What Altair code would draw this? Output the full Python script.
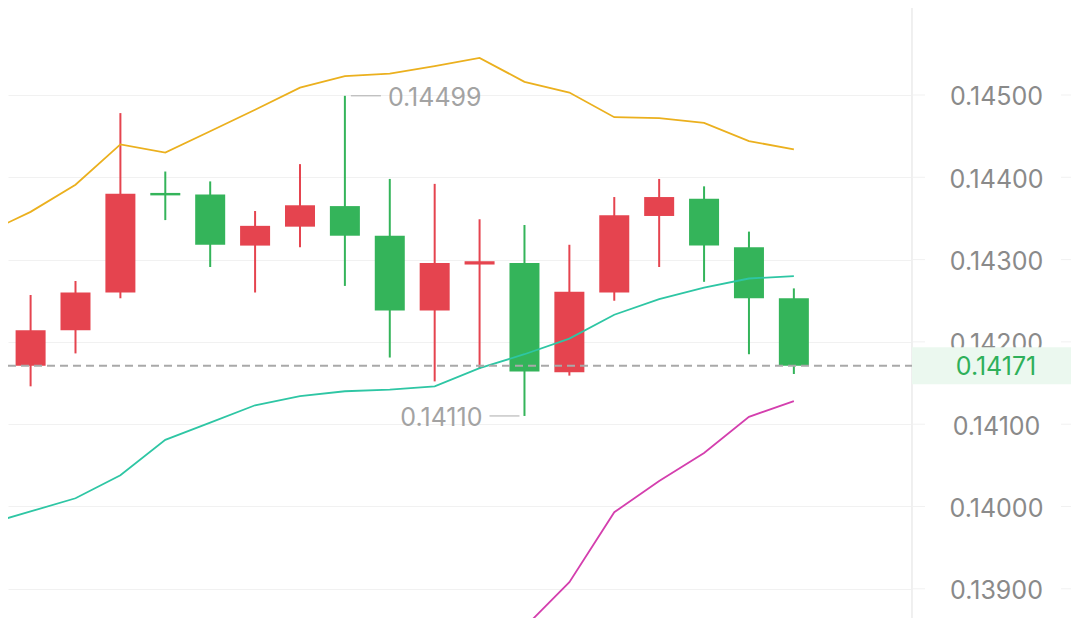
import altair as alt
import pandas as pd

# ---- data ----
idx = list(range(18))
open_ = [0.14171, 0.14214, 0.14260, 0.14381, 0.14379, 0.14317, 0.14340, 0.14365, 0.14329,
         0.14238, 0.14294, 0.14296, 0.14163, 0.14260, 0.14353, 0.14374, 0.14315, 0.14253]
close = [0.14214, 0.14260, 0.14380, 0.14378, 0.14318, 0.14341, 0.14366, 0.14329, 0.14238,
         0.14296, 0.14298, 0.14164, 0.14261, 0.14354, 0.14376, 0.14317, 0.14253, 0.14171]
high = [0.14257, 0.14274, 0.14478, 0.14407, 0.14395, 0.14359, 0.14416, 0.14499, 0.14398,
        0.14392, 0.14349, 0.14342, 0.14318, 0.14376, 0.14398, 0.14389, 0.14334, 0.14265]
low = [0.14146, 0.14186, 0.14253, 0.14348, 0.14291, 0.14260, 0.14315, 0.14268, 0.14181,
       0.14152, 0.14167, 0.14110, 0.14159, 0.14250, 0.14291, 0.14273, 0.14185, 0.14161]

band_idx = list(range(-1, 18))
upper = [0.14332, 0.14358, 0.14391, 0.14440, 0.14430, 0.14456, 0.14482, 0.14509, 0.14523,
         0.14526, 0.14535, 0.14545, 0.14516, 0.14503, 0.14473, 0.14472, 0.14466, 0.14444, 0.14434]
middle = [0.13978, 0.13994, 0.14010, 0.14038, 0.14081, 0.14102, 0.14123, 0.14134, 0.14140,
          0.14142, 0.14146, 0.14168, 0.14185, 0.14204, 0.14233, 0.14252, 0.14266, 0.14277, 0.14280]
lower_idx = list(range(10, 18))
lower = [0.13790, 0.13853, 0.13908, 0.13993, 0.14031, 0.14065, 0.14109, 0.14128]

tick_values = [0.139, 0.140, 0.141, 0.142, 0.143, 0.144, 0.145]
last_price = [0.14171]
last_label = ["0.14171"]
ann_i = [7, 11]
ann_v = [0.14499, 0.14110]
ann_label = ["0.14499", "0.14110"]
ann_kind = ["high", "low"]

# ---- styling ----
RED = "#E5444F"
GREEN = "#34B45A"
GOLD = "#EBB01E"
TEAL = "#2EC6A4"
MAGENTA = "#D43FAE"
FONT = "Inter"
FS = 25

W, H = 904, 610

candles = pd.DataFrame({"i": idx, "open": open_, "close": close, "high": high, "low": low})
candles["dir"] = ["up" if c >= o else "down" for o, c in zip(open_, close)]
bands = pd.DataFrame({"i": band_idx, "upper": upper, "middle": middle})
lower_df = pd.DataFrame({"i": lower_idx, "lower": lower})
ticks_df = pd.DataFrame({"t": tick_values})
price_df = pd.DataFrame({"price": last_price, "label": last_label})
ann_df = pd.DataFrame({"i": ann_i, "v": ann_v, "label": ann_label, "kind": ann_kind})

xs = alt.Scale(domain=[-0.392, 19.52], nice=False, zero=False)
ys = alt.Scale(domain=[0.138645, 0.146057], nice=False, zero=False)

yaxis = alt.Axis(orient="right", values=tick_values, format=".5f", domain=False, ticks=False,
                 tickSize=0, labelPadding=84, labelAlign="center", labelBaseline="middle",
                 labelOffset=2, labelFont=FONT, labelFontSize=FS, labelColor="#8A8A8A",
                 grid=True, gridColor="#F1F1F1", gridWidth=1, title=None, labelFlush=False,
                 labelOverlap=False)

color = alt.Color("dir:N", scale=alt.Scale(domain=["up", "down"], range=[RED, GREEN]), legend=None)

grid_layer = alt.Chart(ticks_df).mark_rule(color="#F1F1F1", strokeWidth=1).encode(
    y=alt.Y("t:Q", scale=ys, axis=yaxis), x=alt.value(W), x2=alt.value(W + 13))
grid_layer2 = alt.Chart(ticks_df).mark_rule(color="#F1F1F1", strokeWidth=1).encode(
    y=alt.Y("t:Q", scale=ys), x=alt.value(W + 149), x2=alt.value(W + 159))
sep = alt.Chart(ticks_df).mark_rule(color="#EFEFEF", strokeWidth=1).encode(
    x=alt.value(W), y=alt.value(0), y2=alt.value(H))

wicks = alt.Chart(candles).mark_rule(strokeWidth=2).encode(
    x=alt.X("i:Q", scale=xs, axis=None), y=alt.Y("low:Q", scale=ys), y2="high:Q", color=color)
bodies = alt.Chart(candles).mark_bar(size=30).encode(
    x=alt.X("i:Q", scale=xs, axis=None), y=alt.Y("open:Q", scale=ys), y2="close:Q", color=color)

up_line = alt.Chart(bands).mark_line(color=GOLD, strokeWidth=1.8, clip=True).encode(
    x=alt.X("i:Q", scale=xs, axis=None), y=alt.Y("upper:Q", scale=ys))
mid_line = alt.Chart(bands).mark_line(color=TEAL, strokeWidth=1.8, clip=True).encode(
    x=alt.X("i:Q", scale=xs, axis=None), y=alt.Y("middle:Q", scale=ys))
low_line = alt.Chart(lower_df).mark_line(color=MAGENTA, strokeWidth=1.8, clip=True).encode(
    x=alt.X("i:Q", scale=xs, axis=None), y=alt.Y("lower:Q", scale=ys))

dash = alt.Chart(price_df).mark_rule(color="#A9A9A9", strokeWidth=1.8, strokeDash=[8, 5]).encode(
    y=alt.Y("price:Q", scale=ys), x=alt.value(0), x2=alt.value(W))
tag_bg = alt.Chart(price_df).mark_rule(color="#EBF8EF", strokeWidth=37).encode(
    y=alt.Y("price:Q", scale=ys), x=alt.value(W), x2=alt.value(W + 159))
tag_txt = alt.Chart(price_df).mark_text(align="center", baseline="middle", font=FONT, dy=1,
                                        fontSize=FS, color="#2FB05A").encode(
    y=alt.Y("price:Q", scale=ys), x=alt.value(W + 84), text="label:N")

hi = ann_df[ann_df.kind == "high"]
lo = ann_df[ann_df.kind == "low"]
hi_line = alt.Chart(hi).mark_rule(color="#ABABAB", strokeWidth=1, xOffset=6, x2Offset=36).encode(
    x=alt.X("i:Q", scale=xs, axis=None), x2="i:Q", y=alt.Y("v:Q", scale=ys))
hi_txt = alt.Chart(hi).mark_text(align="left", baseline="middle", dx=43, dy=2, font=FONT,
                                 fontSize=FS, color="#A3A3A3").encode(
    x=alt.X("i:Q", scale=xs, axis=None), y=alt.Y("v:Q", scale=ys), text="label:N")
lo_line = alt.Chart(lo).mark_rule(color="#ABABAB", strokeWidth=1, xOffset=-35, x2Offset=-5).encode(
    x=alt.X("i:Q", scale=xs, axis=None), x2="i:Q", y=alt.Y("v:Q", scale=ys))
lo_txt = alt.Chart(lo).mark_text(align="right", baseline="middle", dx=-42, dy=2, font=FONT,
                                 fontSize=FS, color="#A3A3A3").encode(
    x=alt.X("i:Q", scale=xs, axis=None), y=alt.Y("v:Q", scale=ys), text="label:N")

chart = alt.layer(
    grid_layer, grid_layer2, sep, wicks, bodies, up_line, mid_line, low_line, dash,
    hi_line, hi_txt, lo_line, lo_txt, tag_bg, tag_txt
).properties(
    width=W, height=H,
    autosize=alt.AutoSizeParams(type="none"),
    padding={"left": 0, "top": 0, "right": 159, "bottom": 0},
    background="white",
).configure_view(stroke=None)

chart.save("out.html", embed_options={"renderer": "svg", "actions": False})
